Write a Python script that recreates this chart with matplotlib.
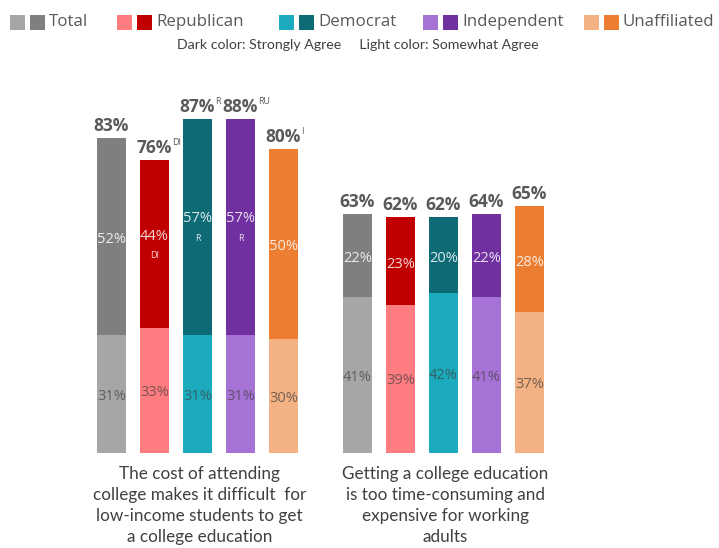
import matplotlib
matplotlib.use("Agg")
import matplotlib.pyplot as plt
from matplotlib.patches import Rectangle

# --- data -------------------------------------------------------------
groups = ["Total", "Republican", "Democrat", "Independent", "Unaffiliated"]
light_colors = ["#A6A6A6", "#FF7C80", "#1BABBD", "#A772D6", "#F4B183"]
dark_colors = ["#7F7F7F", "#C00000", "#0E6B76", "#7030A0", "#ED7D31"]

statements = [
    "The cost of attending\ncollege makes it difficult  for\nlow-income students to get\na college education",
    "Getting a college education\nis too time-consuming and\nexpensive for working\nadults",
]

somewhat_agree = [[31, 33, 31, 31, 30], [41, 39, 42, 41, 37]]
strongly_agree = [[52, 44, 57, 57, 50], [22, 23, 20, 22, 28]]
total_agree = [[83, 76, 87, 88, 80], [63, 62, 62, 64, 65]]
total_notes = [["", "DI", "R", "RU", "I"], ["", "", "", "", ""]]
strong_notes = [["", "DI", "R", "R", ""], ["", "", "", "", ""]]

# --- layout -----------------------------------------------------------
W, H = 719, 548
fig = plt.figure(figsize=(W / 100, H / 100), dpi=100)
ax = fig.add_axes([0, 0, 1, 1])
ax.set_xlim(0, W)
ax.set_ylim(H, 0)
ax.axis("off")

base_y = 453          # pixel row of the bar baseline
px_per_pct = 3.8
bar_w = 29
pitch = 43
group_x0 = [97, 343]

num_font = "Open Sans"
txt_font = "Lato"

for g in range(2):
    for i in range(len(groups)):
        x = group_x0[g] + i * pitch
        lo = somewhat_agree[g][i]
        hi = strongly_agree[g][i]
        h_lo = lo * px_per_pct
        h_hi = hi * px_per_pct
        ax.add_patch(Rectangle((x, base_y - h_lo), bar_w, h_lo,
                               facecolor=light_colors[i], edgecolor="none"))
        ax.add_patch(Rectangle((x, base_y - h_lo - h_hi), bar_w, h_hi,
                               facecolor=dark_colors[i], edgecolor="none"))
        cx = x + bar_w / 2

        # somewhat-agree value
        ax.text(cx, base_y - h_lo / 2 + 2, f"{lo}%", ha="center", va="center",
                fontsize=10.5, color="#404040", alpha=0.7, family=num_font)

        # strongly-agree value (with significance note below it)
        mid = base_y - h_lo - h_hi / 2
        note = strong_notes[g][i]
        if note:
            ax.text(cx, mid - 8, f"{hi}%", ha="center", va="center",
                    fontsize=10.5, color="white", alpha=0.85, family=num_font)
            ax.text(cx, mid + 12, note, ha="center", va="center",
                    fontsize=6.5, color="white", alpha=0.85, family=num_font)
        else:
            ax.text(cx, mid + 3, f"{hi}%", ha="center", va="center",
                    fontsize=10.5, color="white", alpha=0.85, family=num_font)

        # total label on top
        top = base_y - h_lo - h_hi
        ax.text(cx, top - 3, f"{total_agree[g][i]}%", ha="center", va="bottom",
                fontsize=12.5, fontweight="bold", color="#595959", family=num_font)
        if total_notes[g][i]:
            ax.text(cx + 18, top - 13, total_notes[g][i], ha="left", va="bottom",
                    fontsize=6.5, color="#595959", family=num_font)

    gx = group_x0[g] + (4 * pitch + bar_w) / 2 + 2
    ax.text(gx, 466, statements[g], ha="center", va="top", fontsize=12.3,
            color="#404040", family=txt_font, linespacing=1.38)

# --- legend -----------------------------------------------------------
legend_x = [10, 117, 279, 423, 584]
sq = 15
for i, name in enumerate(groups):
    x = legend_x[i]
    ax.add_patch(Rectangle((x, 15), sq, sq, facecolor=light_colors[i], edgecolor="none"))
    ax.add_patch(Rectangle((x + sq + 5, 15), sq, sq, facecolor=dark_colors[i], edgecolor="none"))
    ax.text(x + 2 * sq + 9, 22, name, ha="left", va="center", fontsize=12.2,
            color="#595959", family=num_font)

ax.text(358, 45, "Dark color: Strongly Agree     Light color: Somewhat Agree",
        ha="center", va="center", fontsize=10.2, color="#404040", family=txt_font)

fig.savefig("out.png", dpi=100)
